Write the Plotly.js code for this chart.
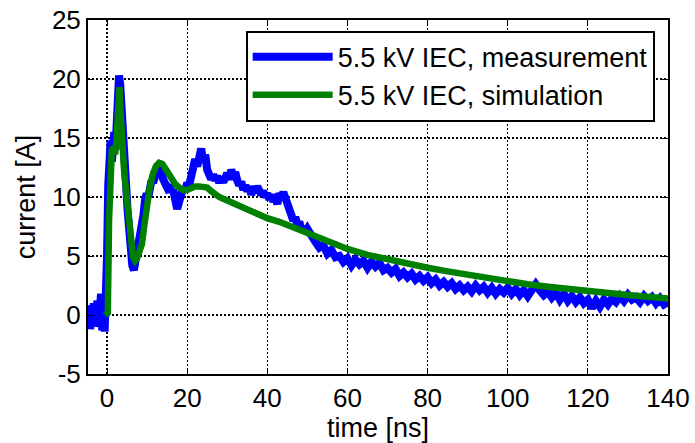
<!DOCTYPE html>
<html>
<head>
<meta charset="utf-8">
<script src="https://cdn.plot.ly/plotly-3.0.1.min.js"></script>
<style>html,body{margin:0;padding:0;background:#fff;}#chart{width:695px;height:443px;}</style>
</head>
<body>
<div id="chart"></div>
<script>
// Measurement (blue) — time [ns]
const measTime = [-4.8,-4.5,-4.2,-3.9,-3.6,-3.3,-3.0,-2.7,-2.4,-2.1,-1.8,-1.5,-1.2,-0.9,-0.6,-0.3,0.0,0.3,0.6,0.9,1.2,1.5,1.8,2.1,2.4,2.7,3.0,3.3,3.6,3.9,4.2,4.5,4.8,5.1,5.5,5.9,6.3,6.7,7.1,7.5,7.9,8.3,8.7,9.1,9.5,9.9,10.3,10.7,11.1,11.5,11.9,12.3,12.7,13.1,13.5,14,14.5,15,15.5,16,16.5,17,17.5,18,18.5,19,19.5,20,20.5,21,21.5,22,22.5,23,23.5,24,24.5,25,25.5,26,26.5,27,27.5,28,28.5,29,29.5,30,30.5,31,31.5,32,32.5,33,33.5,34,34.5,35,35.5,36,36.5,37,37.5,38,38.5,39,39.5,40,40.5,41,41.5,42,42.5,43,43.5,44,44.5,45,45.5,46,46.5,47,47.5,48,48.5,49,49.5,50,51,52,53,54,55,56,57,58,59,60,61,62,63,64,65,66,67,68,69,70,71,72,73,74,75,76,77,78,79,80,81,82,83,84,85,86,87,88,89,90,91,92,93,94,95,96,97,98,99,100,101,102,103,104,105,106,107,108,109,110,111,112,113,114,115,116,117,118,119,120,121,122,123,124,125,126,127,128,129,130,131,132,133,134,135,136,137,138,139,140];
// Measurement current [A]
const measCurrent = [-0.5,0.8,-1.2,0.5,-0.8,1.0,-0.3,0.2,1.2,-1.0,0.6,1.8,-1.3,1.5,-1.4,0.5,5.0,11.0,13.5,14.8,13.0,14.5,15.5,14.0,17.0,19.0,20.3,19.5,17.0,16.0,14.0,12.5,10.8,9.0,7.0,5.5,4.2,3.8,4.5,5.5,6.5,7.4,8.0,8.5,9.8,10.3,10.0,11.0,11.4,11.2,12.0,12.2,12.6,12.0,12.4,11.5,11.2,10.8,11.0,10.4,10.6,9.8,9.0,9.6,10.2,10.8,10.5,11.2,11.0,11.6,12.8,13.2,12.6,13.8,14.1,13.0,13.6,12.3,12.0,11.5,11.9,11.4,11.8,11.2,11.7,11.3,11.6,12.0,11.5,12.3,11.8,12.1,11.4,11.0,11.3,10.6,11.0,10.5,10.9,10.2,10.7,10.4,10.9,10.6,10.2,10.5,10.0,10.3,9.8,10.2,9.6,10.0,9.4,10.3,10.0,10.4,9.8,9.6,9.0,8.6,8.0,8.3,7.6,7.9,7.2,7.5,7.0,7.3,6.6,6.2,5.7,5.9,5.2,5.5,4.9,5.0,4.5,4.8,4.2,4.7,4.3,4.6,4.0,4.5,4.1,4.4,3.8,4.0,3.6,3.9,3.3,3.6,3.2,3.5,3.0,3.3,2.9,3.2,2.7,3.0,2.5,2.8,2.4,2.7,2.2,2.5,2.1,2.4,2.0,2.5,2.1,2.4,1.9,2.3,1.8,2.2,1.9,2.3,1.8,2.2,1.7,2.1,1.6,2.0,2.6,2.1,1.7,2.0,1.5,1.9,1.3,1.8,1.2,1.6,1.1,1.5,1.0,1.3,0.6,1.2,0.7,1.3,0.9,1.4,1.1,1.6,1.2,1.7,1.3,1.5,1.1,1.6,1.2,1.5,1.0,1.4,0.9,1.1];

// Simulation (green)
const simTime = [-0.5,0.2,0.5,0.8,1.2,1.6,2.0,2.4,2.8,3.1,3.4,3.8,4.2,4.6,5.0,5.5,6.0,6.5,7.0,7.5,8.0,8.7,9.3,10.0,10.7,11.4,12.2,13.0,13.8,14.6,15.4,16.2,17.0,18.0,19.0,20.0,21.0,22.0,23.0,24.0,25.0,26.0,27.0,28.0,30,32,34,36,38,40,43,46,50,55,60,65,70,75,80,85,90,95,100,105,110,115,120,125,130,135,140];
const simCurrent = [0,0.2,8,13,14,14.2,13.6,15,18.5,19.3,17,13.5,12.5,11,9.7,7.8,5.6,4.9,4.6,4.8,5.3,6.0,7.6,9.4,10.9,11.9,12.6,12.9,12.8,12.4,11.9,11.4,11.1,10.8,10.6,10.6,10.8,10.9,10.9,10.9,10.8,10.5,10.2,10.0,9.7,9.4,9.1,8.8,8.5,8.2,7.9,7.5,7.0,6.2,5.6,5.1,4.7,4.3,4.0,3.7,3.4,3.1,2.9,2.6,2.4,2.2,2.0,1.8,1.7,1.55,1.4];

const seriesNames = ['5.5 kV IEC, measurement', '5.5 kV IEC, simulation'];
const xTicks = [0,20,40,60,80,100,120,140];
const yTicks = [-5,0,5,10,15,20,25];
const yTickText = ['-5','0','5','10','15','20','25'];

const font = 'Liberation Sans, Arial, sans-serif';

const traces = [
  {x: measTime, y: measCurrent, name: seriesNames[0], type: 'scatter', mode: 'lines',
   line: {color: '#0000ff', width: 8}},
  {x: simTime, y: simCurrent, name: seriesNames[1], type: 'scatter', mode: 'lines',
   line: {color: '#008000', width: 6.5}}
];

const axisCommon = {
  showline: true, linecolor: '#000', linewidth: 2, mirror: 'ticks',
  ticks: 'inside', ticklen: 6, tickcolor: '#000', tickwidth: 1,
  showgrid: true, gridcolor: '#000', gridwidth: 1.2, griddash: '2px,2px',
  zeroline: false, automargin: false,
  tickfont: {family: font, size: 26, color: '#000'}
};

const layout = {
  width: 695, height: 443,
  margin: {l: 88, r: 27, t: 20, b: 69},
  paper_bgcolor: '#fff', plot_bgcolor: '#fff',
  font: {family: font, color: '#000'},
  xaxis: Object.assign({}, axisCommon, {
    range: [-4.75, 140], tickmode: 'array', tickvals: xTicks,
    title: {text: 'time [ns]', font: {family: font, size: 27, color: '#000'}, standoff: 4}
  }),
  yaxis: Object.assign({}, axisCommon, {
    range: [-5, 25], tickmode: 'array', tickvals: yTicks, ticktext: yTickText,
    title: {text: 'current [A]', font: {family: font, size: 27, color: '#000'}, standoff: 8}
  }),
  legend: {
    x: 0.977, xanchor: 'right', y: 0.97, yanchor: 'top',
    bgcolor: '#fff', bordercolor: '#000', borderwidth: 2,
    font: {family: font, size: 27, color: '#000'},
    itemwidth: 80, tracegroupgap: 0
  },
  showlegend: true
};

Plotly.newPlot('chart', traces, layout, {staticPlot: true, displayModeBar: false});
</script>
</body>
</html>
